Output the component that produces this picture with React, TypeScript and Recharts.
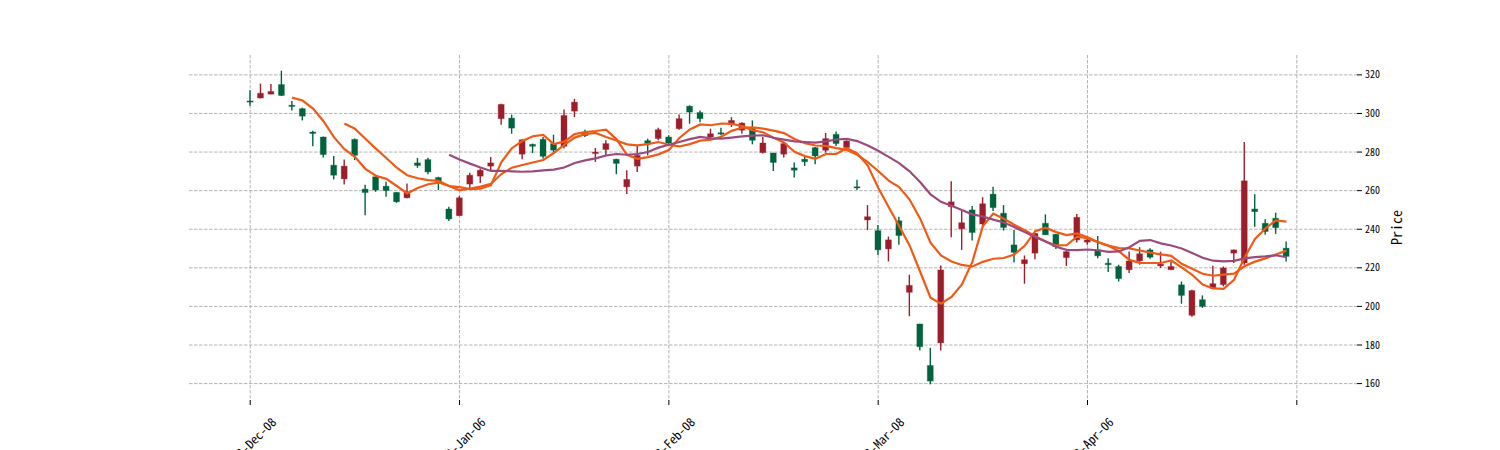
import { Bar, CartesianGrid, ComposedChart, Line, XAxis, YAxis } from "recharts";

// daily OHLC, 100 sessions
const opens = [
  306.5, 308, 310, 315, 304.3, 302.5, 290.4, 287.8, 273.2, 266.1,
  286.6, 260.8, 267.2, 262.3, 259.1, 256.3, 274.4, 276.1, 266.8, 250.5,
  247, 263.4, 267.5, 272.7, 297.3, 297.6, 278.9, 284, 286.6, 284.4,
  283, 301.2, 290.4, 279.2, 281.3, 276.3, 262, 272.7, 285.9, 287,
  287.8, 292.1, 303.8, 300.5, 287.8, 290, 294.3, 291.3, 292.1, 279.7,
  279.5, 278.9, 271.8, 276.3, 282.3, 280.9, 289.2, 282.3, 262, 244.8,
  239.3, 229.8, 244.4, 207.3, 190.9, 169.4, 181.1, 251.7, 240.2, 250,
  242.7, 258.2, 248.3, 231.9, 222.1, 227.6, 243.1, 237.4, 225.3, 234.5,
  233.3, 229.3, 222.4, 220.7, 219, 223.6, 229.3, 221, 219, 211.2,
  195.4, 203.5, 209.5, 211.3, 227.6, 222.5, 250.5, 243.1, 245.7, 230.2,
];
const highs = [
  312, 315.5, 315.3, 322.2, 306.4, 303, 291, 288, 278, 276.1,
  287, 263, 267.5, 264.6, 259.3, 263.7, 277, 277, 267.2, 251.7,
  257.2, 269.3, 271.5, 277.5, 305, 299.4, 286.6, 284.4, 287.8, 289,
  302.1, 307.6, 291.6, 282.1, 286.1, 276.5, 270.6, 283.5, 286.9, 292.6,
  288.7, 299.5, 304.2, 301.6, 292.1, 292.6, 298.1, 295.5, 296.4, 287.8,
  279.7, 285.2, 274.6, 277.8, 282.6, 289.9, 290.7, 286.1, 265.6, 252.5,
  242.2, 236.2, 246.5, 216.4, 191, 178.6, 221.2, 264.9, 250, 252,
  256.6, 262, 252.5, 239.6, 226.4, 238, 247.7, 237.5, 228.6, 247.9,
  236.2, 236.5, 225, 221.6, 228.4, 230.7, 230.2, 228.4, 223.3, 212.9,
  208.7, 205.7, 221.1, 220.7, 229.5, 285.2, 258.1, 245.2, 248.6, 233.7,
];
const lows = [
  304, 307.8, 310, 309, 301.6, 296.4, 283, 277.2, 265.8, 263.2,
  275.8, 247.2, 259.4, 256.8, 253.7, 256, 271.8, 268.5, 260.3, 244.3,
  247, 260.3, 264, 270.6, 294.2, 289.5, 276.3, 279.5, 276.6, 279.2,
  281.8, 298.1, 287.8, 274.9, 278.3, 268.5, 258.2, 269.7, 278.3, 286.1,
  283.5, 291.6, 294.7, 295.5, 286.1, 288.7, 293, 289.5, 284, 279.2,
  270.2, 277.2, 266.8, 272.8, 273.7, 279.7, 283.1, 280.9, 260.3, 239.6,
  226.7, 223.3, 231.9, 194.9, 177.2, 159.6, 177.2, 235.9, 229.3, 234.1,
  241.7, 249.5, 239.3, 222.8, 211.8, 224.5, 237, 229.7, 221, 233.1,
  231.9, 225, 217.8, 212.9, 217.3, 221.6, 224.7, 219.9, 219, 201.4,
  194.6, 199.2, 209.5, 210.4, 222.5, 221.6, 241.3, 237.1, 237.6, 223.3,
];
const closes = [
  306, 310.5, 311.4, 309.3, 303.6, 298.6, 289.6, 278.7, 268, 272.7,
  278.3, 259, 260.3, 260, 254.2, 259.4, 273, 269.7, 264.8, 245.3,
  256.3, 268, 270.6, 274.4, 304.7, 292.4, 286.4, 283, 277.8, 281,
  299, 305.9, 288.5, 280, 284.4, 274.1, 265.8, 278.3, 284.4, 291.6,
  284.7, 297.3, 300.7, 297.3, 289.5, 289.3, 296.4, 295, 286.1, 284.7,
  274.6, 284.4, 270.6, 275, 278, 287, 284.4, 285.7, 261.4, 246.5,
  229.3, 234.5, 236.7, 210.9, 179.1, 161.3, 218.9, 254.2, 243.4, 238.3,
  253.2, 251.2, 240.9, 228, 224.2, 237.9, 237.1, 231, 228.4, 246.2,
  234.5, 226.2, 221.6, 214.4, 223.6, 227.3, 225.5, 221.9, 220.7, 205.7,
  208.2, 200, 211.8, 219.9, 229.3, 265.1, 249.1, 238.8, 240.8, 225.9,
];

// moving averages
const ma5 = [
  null, null, null, null, 308.2, 306.7, 302.5, 296.0, 287.7, 281.5,
  277.5, 271.3, 267.7, 266.1, 262.4, 258.6, 261.4, 263.3, 264.2, 262.4,
  261.8, 260.8, 261.0, 262.9, 274.8, 282.0, 285.7, 288.2, 288.9, 284.1,
  285.4, 289.3, 290.4, 290.9, 291.6, 286.6, 278.6, 276.5, 277.4, 278.8,
  281.0, 287.3, 291.7, 294.3, 293.9, 294.8, 294.6, 293.5, 291.3, 290.3,
  287.4, 285.0, 280.1, 277.9, 276.5, 279.0, 279.0, 282.0, 279.3, 273.0,
  261.5, 251.5, 241.7, 231.6, 218.1, 204.5, 201.4, 204.9, 211.4, 223.2,
  241.6, 248.1, 245.4, 242.3, 239.5, 236.4, 233.6, 231.6, 231.7, 236.1,
  235.4, 233.3, 231.4, 228.6, 224.1, 222.6, 222.5, 222.5, 223.8, 220.2,
  216.4, 211.3, 209.3, 209.1, 213.8, 225.2, 235.0, 240.4, 244.6, 243.9,
];
const ma10 = [
  null, null, null, null, null, null, null, null, null, 294.8,
  292.1, 286.9, 281.8, 276.9, 271.9, 268.0, 266.4, 265.5, 265.1, 262.4,
  260.2, 261.1, 262.1, 263.6, 268.6, 271.9, 273.3, 274.6, 275.9, 279.5,
  283.7, 287.5, 289.3, 289.9, 287.8, 286.0, 284.0, 283.5, 284.1, 285.2,
  283.8, 282.9, 284.1, 285.9, 286.4, 287.9, 291.0, 292.6, 292.8, 292.1,
  291.1, 289.8, 286.8, 284.6, 283.4, 283.2, 282.0, 281.1, 278.6, 274.8,
  270.2, 265.2, 261.9, 255.4, 245.6, 233.0, 226.4, 223.3, 221.5, 220.7,
  223.1, 224.7, 225.1, 226.9, 231.4, 239.0, 240.8, 238.5, 237.0, 237.8,
  235.9, 233.4, 231.5, 230.2, 230.1, 229.0, 227.9, 227.0, 226.2, 222.1,
  219.5, 216.9, 215.9, 216.5, 217.0, 220.8, 223.2, 224.9, 226.9, 228.9,
];
const ma20 = [
  null, null, null, null, null, null, null, null, null, null,
  null, null, null, null, null, null, null, null, null, 278.6,
  276.1, 274.0, 272.0, 270.2, 270.3, 270.0, 269.8, 270.0, 270.5, 270.9,
  272.0, 274.3, 275.7, 276.7, 278.2, 279.0, 278.6, 279.0, 280.0, 282.3,
  283.8, 285.2, 286.7, 287.9, 287.1, 287.0, 287.5, 288.1, 288.5, 288.7,
  287.4, 286.4, 285.5, 285.2, 284.9, 285.5, 286.5, 286.8, 285.7, 283.4,
  280.7, 277.5, 274.3, 270.0, 264.5, 258.1, 254.2, 252.2, 250.0, 247.7,
  246.6, 245.0, 243.5, 241.1, 238.5, 236.0, 233.6, 230.9, 229.3, 229.2,
  229.5, 229.1, 228.3, 228.5, 230.7, 234.0, 234.4, 232.7, 231.6, 230.0,
  227.7, 225.2, 223.7, 223.3, 223.6, 224.9, 225.5, 225.9, 226.5, 225.5,
];

const tickPositions = [0, 20, 40, 60, 80, 100];
const tickLabels = ["2022-Dec-08", "2023-Jan-06", "2023-Feb-08", "2023-Mar-08", "2023-Apr-06", ""];
const priceTicks = [160, 180, 200, 220, 240, 260, 280, 300, 320];

const UP = "#9c1e2b";
const DOWN = "#00633e";
const FONT = "'Noto Sans Mono CJK SC', 'DejaVu Sans Mono', monospace";

const rows = closes.map((c, i) => ({
  i,
  open: opens[i],
  high: highs[i],
  low: lows[i],
  close: c,
  ma5: ma5[i],
  ma10: ma10[i],
  ma20: ma20[i],
}));

const Candle = (props: any) => {
  const { x, y, width, height, payload } = props;
  const { open, close, high, low } = payload;
  const color = close >= open ? UP : DOWN;
  const top = Math.min(y, y + height);
  const h = Math.abs(height);
  const ratio = h / (high - low);
  const yOf = (v: number) => top + (high - v) * ratio;
  const cx = x + width / 2;
  const bTop = yOf(Math.max(open, close));
  const bBot = yOf(Math.min(open, close));
  return (
    <g>
      <line x1={cx} x2={cx} y1={top} y2={top + h} stroke={color} strokeWidth={1.4} />
      <rect
        x={x}
        y={bTop}
        width={width}
        height={Math.max(bBot - bTop, 1.2)}
        fill={color}
        stroke={color}
        strokeOpacity={0.3}
        strokeWidth={1}
      />
    </g>
  );
};

// rotated date labels, partly running off the bottom edge like the original
const DateTick = (props: any) => {
  const { x, y, payload } = props;
  const label = tickLabels[tickPositions.indexOf(payload.value)];
  if (!label) return null;
  const ax = x + 27;
  const ay = y + 16;
  return (
    <text
      x={ax}
      y={ay}
      transform={`rotate(-45 ${ax} ${ay})`}
      textAnchor="end"
      fontSize={12.5}
      fontFamily={FONT}
      fill="#000"
    >
      {label}
    </text>
  );
};

export default function App() {
  return (
    <div style={{ position: "absolute", left: 0, top: 0, width: 1500, height: 450, background: "#fff" }}>
      <ComposedChart
        width={1500}
        height={450}
        data={rows}
        margin={{ top: 55, right: 83, left: 189, bottom: 10 }}
      >
        <CartesianGrid stroke="#a2a2a2" strokeWidth={0.8} strokeDasharray="3.5 1.5" syncWithTicks />
        <XAxis
          type="number"
          dataKey="i"
          domain={[-5.85, 105.75]}
          ticks={tickPositions}
          interval={0}
          height={40}
          axisLine={false}
          tickSize={5}
          tickLine={{ stroke: "#000" }}
          tick={<DateTick />}
        />
        <YAxis
          orientation="right"
          type="number"
          domain={[151.5, 330.3]}
          ticks={priceTicks}
          width={60}
          axisLine={false}
          tickSize={5}
          tickMargin={3}
          tickLine={{ stroke: "#000" }}
          tick={{ fontSize: 10, fontFamily: FONT, fill: "#000" }}
          label={{ value: "Price", angle: -90, position: "center", dx: 10, fontSize: 14, fontFamily: FONT, fill: "#000" }}
        />
        <Bar
          dataKey={(d: any) => [d.low, d.high]}
          barSize={6}
          shape={<Candle />}
          isAnimationActive={false}
        />
        <Line dataKey="ma5" stroke="#ef5b16" strokeWidth={2.2} dot={false} activeDot={false} isAnimationActive={false} />
        <Line dataKey="ma10" stroke="#ef5b16" strokeWidth={2.2} dot={false} activeDot={false} isAnimationActive={false} />
        <Line dataKey="ma20" stroke="#9c4a7e" strokeWidth={2.2} dot={false} activeDot={false} isAnimationActive={false} />
      </ComposedChart>
    </div>
  );
}
